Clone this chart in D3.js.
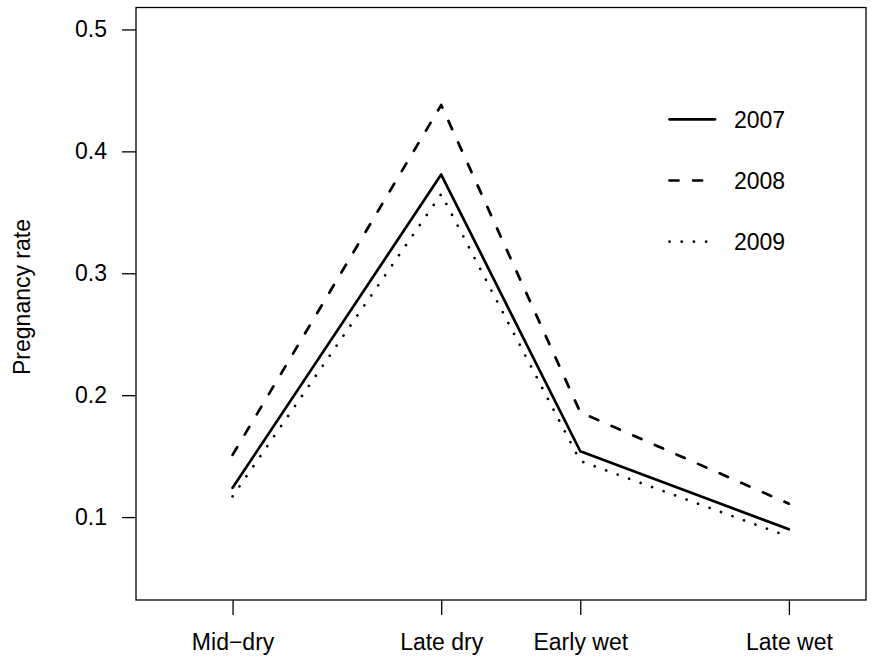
<!DOCTYPE html>
<html>
<head>
<meta charset="utf-8">
<script src="https://cdn.jsdelivr.net/npm/d3@7"></script>
<style>
  html, body { margin: 0; padding: 0; background: #fff; }
  svg { display: block; }
  text { font-family: "Liberation Sans", Arial, Helvetica, sans-serif; fill: #000; }
</style>
</head>
<body>
<svg id="chart" width="874" height="657"></svg>
<script>
// ---- data ----
const seasons = ["Mid\u2212dry", "Late dry", "Early wet", "Late wet"];
const seasonPos = [0, 3, 5, 8];           // relative position along the x axis
const years = ["2007", "2008", "2009"];
const rate2007 = [0.124, 0.381, 0.154, 0.090];
const rate2008 = [0.151, 0.438, 0.186, 0.111];
const rate2009 = [0.117, 0.365, 0.146, 0.084];
const yTicks = [0.1, 0.2, 0.3, 0.4, 0.5];
const yLimits = [0.05, 0.5];
const xLimits = [-1.0, 8.72];

// ---- layout ----
const svg = d3.select("#chart");
const box = { left: 136, right: 866, top: 7.5, bottom: 600 };
const fontSize = 23;

const pad = v => { const d = (v[1] - v[0]) * 0.04; return [v[0] - d, v[1] + d]; };

const x = d3.scaleLinear().domain(pad(xLimits)).range([box.left, box.right]);
const y = d3.scaleLinear().domain(pad(yLimits)).range([box.bottom, box.top]);

const series = [
  { name: years[0], values: rate2007, dash: null },
  { name: years[1], values: rate2008, dash: "9,14.6" },
  { name: years[2], values: rate2009, dash: "0.01,12.2" }
];

const line = d3.line().x((d, i) => x(seasonPos[i])).y(d => y(d));

series.forEach(s => {
  svg.append("path")
    .datum(s.values)
    .attr("d", line)
    .attr("fill", "none")
    .attr("stroke", "#000")
    .attr("stroke-width", 2.7)
    .attr("stroke-linecap", "round")
    .attr("stroke-linejoin", "round")
    .attr("stroke-dasharray", s.dash);
});

// box
svg.append("rect")
  .attr("x", box.left).attr("y", box.top)
  .attr("width", box.right - box.left).attr("height", box.bottom - box.top)
  .attr("fill", "none").attr("stroke", "#000").attr("stroke-width", 1.3);

// y axis
const yAxis = svg.append("g")
  .attr("transform", `translate(${box.left},0)`)
  .call(d3.axisLeft(y).tickValues(yTicks).tickFormat(d3.format(".1f"))
        .tickSize(14).tickSizeOuter(0).tickPadding(15));
yAxis.select(".domain").remove();
yAxis.selectAll("line").attr("stroke", "#000").attr("stroke-width", 1.3);
yAxis.selectAll("text").attr("font-size", fontSize).attr("font-family", null);

// x axis
const xAxis = svg.append("g")
  .attr("transform", `translate(0,${box.bottom})`)
  .call(d3.axisBottom(x).tickValues(seasonPos).tickFormat((d, i) => seasons[i])
        .tickSize(15).tickSizeOuter(0).tickPadding(19));
xAxis.select(".domain").remove();
xAxis.selectAll("line").attr("stroke", "#000").attr("stroke-width", 1.3);
xAxis.selectAll("text").attr("font-size", fontSize).attr("font-family", null);

// y label
svg.append("text")
  .attr("transform", `translate(30,297) rotate(-90)`)
  .attr("text-anchor", "middle")
  .attr("font-size", fontSize)
  .text("Pregnancy rate");

// legend
const legY = [119.3, 180.5, 241.7];
const leg = svg.append("g");
series.forEach((s, i) => {
  leg.append("line")
    .attr("x1", 669.5).attr("x2", 715)
    .attr("y1", legY[i]).attr("y2", legY[i])
    .attr("stroke", "#000").attr("stroke-width", 2.7)
    .attr("stroke-linecap", "round")
    .attr("stroke-dasharray", s.dash);
  leg.append("text")
    .attr("x", 734).attr("y", legY[i])
    .attr("dy", "0.36em")
    .attr("font-size", fontSize)
    .text(s.name);
});
</script>
</body>
</html>
